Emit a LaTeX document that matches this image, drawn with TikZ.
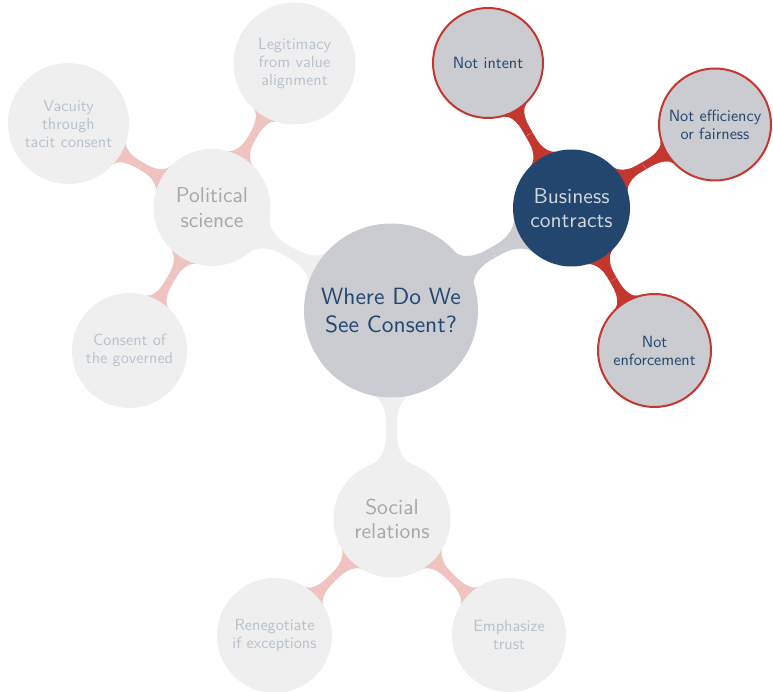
\documentclass[tikz,border=0pt]{standalone}
\usepackage{fontspec}
\setsansfont{lmsans10-regular.otf}
\usetikzlibrary{calc}
\definecolor{rootfill}{HTML}{CBCCD1}
\definecolor{navy}{HTML}{22466D}
\definecolor{fade}{HTML}{EFEFEF}
\definecolor{fadetext}{HTML}{A7A7A9}
\definecolor{fadeleaf}{HTML}{B7C1CD}
\definecolor{hired}{HTML}{C3372E}
\definecolor{pinkbar}{HTML}{EEC3C0}
\definecolor{bclight}{HTML}{D4D8DE}
\pgfdeclarelayer{bg}
\pgfsetlayers{bg,main}
% #1 from node, #2 to node, #3 r from, #4 r to, #5 half width, #6 flare from, #7 flare to, #8 fillet length, #9 colour
\newcommand\conlink[9]{%
  \fill[#9] let \p1=($(#2)-(#1)$), \n1={atan2(\y1,\x1)},
     \n2={asin(#6/#3)}, \n3={asin(#7/#4)},
     \n4={#3+#8}, \n5={#4+#8}, \n6={0.55*(#6-#5)}, \n7={0.55*(#7-#5)}, \n8={0.55*#8} in
    ($(#1)+(\n1+\n2:#3pt)$)
    .. controls +(\n1+\n2-90:\n6pt) and +(\n1+180:\n8pt) ..
    ($(#1)+(\n1:\n4pt)+(\n1+90:#5pt)$)
    -- ($(#2)+(\n1+180:\n5pt)+(\n1+90:#5pt)$)
    .. controls +(\n1:\n8pt) and +(\n1+270-\n3:\n7pt) ..
    ($(#2)+(\n1+180-\n3:#4pt)$)
    -- ($(#2)+(\n1+180+\n3:#4pt)$)
    .. controls +(\n1+90+\n3:\n7pt) and +(\n1:\n8pt) ..
    ($(#2)+(\n1+180:\n5pt)+(\n1-90:#5pt)$)
    -- ($(#1)+(\n1:\n4pt)+(\n1-90:#5pt)$)
    .. controls +(\n1+180:\n8pt) and +(\n1+90-\n2:\n6pt) ..
    ($(#1)+(\n1-\n2:#3pt)$) -- cycle;
  \draw[white, line width=0.5pt, densely dotted, opacity=0.8]
    let \p1=($(#2)-(#1)$), \n1={atan2(\y1,\x1)}, \n2={(#3-#4)/2} in
    ($(#1)!0.5!(#2)+(\n1:\n2pt)+(\n1+90:#5pt)$) -- ($(#1)!0.5!(#2)+(\n1:\n2pt)+(\n1-90:#5pt)$);
}
\tikzset{
  concept/.style={circle, inner sep=0pt, align=center},
  rootc/.style={concept, fill=rootfill, text=navy, font=\sffamily\fontsize{23.5}{28}\selectfont},
  mainc/.style={concept, fill=navy, text=bclight, font=\sffamily\fontsize{21.5}{24.5}\selectfont},
  fadec/.style={concept, fill=fade, text=fadetext, font=\sffamily\fontsize{21.5}{24.5}\selectfont},
  hileaf/.style={concept, fill=rootfill, draw=hired, line width=2pt, text=navy, font=\sffamily\fontsize{16.2}{18}\selectfont},
  fadeleafc/.style={concept, fill=fade, text=fadeleaf, font=\sffamily\fontsize{16.2}{18}\selectfont},
}
\begin{document}
\begin{tikzpicture}[x=1pt,y=-1pt]
\useasboundingbox (0,0) rectangle (773,692);
% nodes
\node[rootc, minimum size=174pt] (root) at (391,310.5) {Where Do We\\See Consent?};
\node[mainc, minimum size=117pt] (bc) at (571.5,208) {Business\\contracts};
\node[fadec, minimum size=117pt] (ps) at (212,207.5) {Political\\science};
\node[fadec, minimum size=117pt] (sr) at (392,519) {Social\\relations};
\node[hileaf, minimum size=110pt] (ni) at (488,63) {Not intent};
\node[hileaf, minimum size=112pt] (ne) at (715,124.5) {Not efficiency\\or fairness};
\node[hileaf, minimum size=113pt] (nf) at (654.5,350.5) {Not\\enforcement};
\node[fadeleafc, minimum size=122pt] (lv) at (294.5,63.5) {Legitimacy\\from value\\alignment};
\node[fadeleafc, minimum size=121pt] (vt) at (68.5,123.5) {Vacuity\\through\\tacit consent};
\node[fadeleafc, minimum size=115pt] (cg) at (129.5,350.5) {Consent of\\the governed};
\node[fadeleafc, minimum size=115pt] (rn) at (274.5,635.5) {Renegotiate\\if exceptions};
\node[fadeleafc, minimum size=114pt] (et) at (509,635) {Emphasize\\trust};
% connectors
\begin{pgfonlayer}{bg}
\conlink{root}{bc}{87}{58.5}{5.5}{19}{20}{24}{rootfill}
\conlink{root}{ps}{87}{58.5}{5.5}{19}{20}{24}{fade}
\conlink{root}{sr}{87}{58.5}{5.5}{19}{20}{24}{fade}
\conlink{bc}{ni}{58.5}{56}{4}{15}{13}{19}{hired}
\conlink{bc}{ne}{58.5}{57}{4}{15}{13}{19}{hired}
\conlink{bc}{nf}{58.5}{57.5}{4}{15}{13}{19}{hired}
\conlink{ps}{lv}{58.5}{61}{4}{15}{13}{19}{pinkbar}
\conlink{ps}{vt}{58.5}{60.5}{4}{15}{13}{19}{pinkbar}
\conlink{ps}{cg}{58.5}{57.5}{4}{15}{13}{19}{pinkbar}
\conlink{sr}{rn}{58.5}{57.5}{4}{15}{13}{19}{pinkbar}
\conlink{sr}{et}{58.5}{57}{4}{15}{13}{19}{pinkbar}
\end{pgfonlayer}
\end{tikzpicture}
\end{document}
